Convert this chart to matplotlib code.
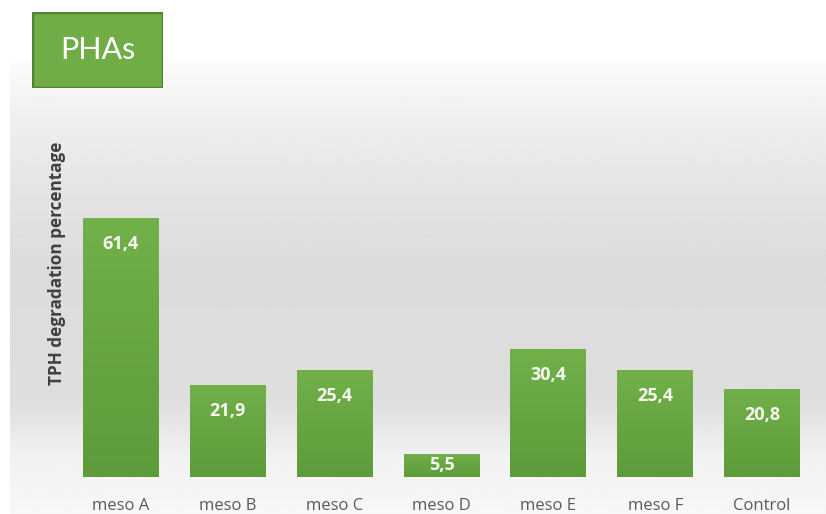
import numpy as np
import matplotlib.pyplot as plt
from matplotlib.patches import Rectangle
from matplotlib.colors import LinearSegmentedColormap

categories = ['meso A', 'meso B', 'meso C', 'meso D', 'meso E', 'meso F', 'Control']
values = [61.4, 21.9, 25.4, 5.5, 30.4, 25.4, 20.8]
labels = ['61,4', '21,9', '25,4', '5,5', '30,4', '25,4', '20,8']

W, H = 826, 514
fig = plt.figure(figsize=(W / 100, H / 100), dpi=100)
fig.patch.set_facecolor('white')

# grey backdrop (fade from white at top to grey, lighter again at the bottom)
bg = fig.add_axes([10 / W, 0, 816 / W, (H - 58) / H], zorder=0)
yy = np.linspace(0, 1, 300)
shade = np.interp(yy, [0, 0.12, 0.25, 0.55, 0.85, 1.0], [0.97, 0.95, 0.87, 0.86, 0.93, 0.99])
bg.imshow(np.repeat(shade[:, None], 2, axis=1), cmap='gray', vmin=0, vmax=1,
          aspect='auto', extent=[0, 1, 0, 1], origin='lower')
bg.axis('off')

# plot area: x 67.5..815.5 px, y baseline at 477 px
ax = fig.add_axes([67.5 / W, (H - 477) / H, 748 / W, 295 / H], zorder=1)
ax.set_facecolor('none')
x = np.arange(len(categories))
bars = ax.bar(x, values, width=0.71, color='#6aa843', zorder=2)

green = LinearSegmentedColormap.from_list('g', ['#5e9b3a', '#72b04a'])
grad = np.linspace(0, 1, 100)[:, None]
for b in bars:
    b.set_facecolor('none')
    im = ax.imshow(grad, cmap=green, aspect='auto', origin='lower',
                   extent=[b.get_x(), b.get_x() + b.get_width(), 0, b.get_height()], zorder=2)
    im.set_clip_path(b)
ax.set_xlim(-0.5, len(categories) - 0.5)
ax.set_ylim(0, 70)

for xi, v, lab in zip(x, values, labels):
    ypos = v - 6.2 if v > 10 else v / 2
    ax.text(xi, ypos, lab, ha='center', va='center', color='#f4f8ee',
            fontsize=13, fontweight='bold', family='Open Sans', zorder=3)

ax.set_xticks(x)
ax.set_xticklabels(categories, fontsize=12, color='#595959', family='Open Sans')
ax.tick_params(axis='x', length=0, pad=15)
ax.set_yticks([])
for s in ax.spines.values():
    s.set_visible(False)

fig.text(57 / W, 1 - 263 / H, 'TPH degradation percentage', rotation=90,
         ha='center', va='center', fontsize=12.3, fontweight='bold',
         color='#404040', family='Open Sans')

# title box
tb = fig.add_axes([32 / W, 1 - 88 / H, 131 / W, 76 / H], zorder=2)
tb.add_patch(Rectangle((0, 0), 1, 1, facecolor='#70ad47', edgecolor='#548235',
                       linewidth=2.5, transform=tb.transAxes))
tb.text(0.5, 0.5, 'PHAs', ha='center', va='center', color='white',
        fontsize=22, family='Lato')
tb.axis('off')

fig.savefig('out.png', dpi=100)
